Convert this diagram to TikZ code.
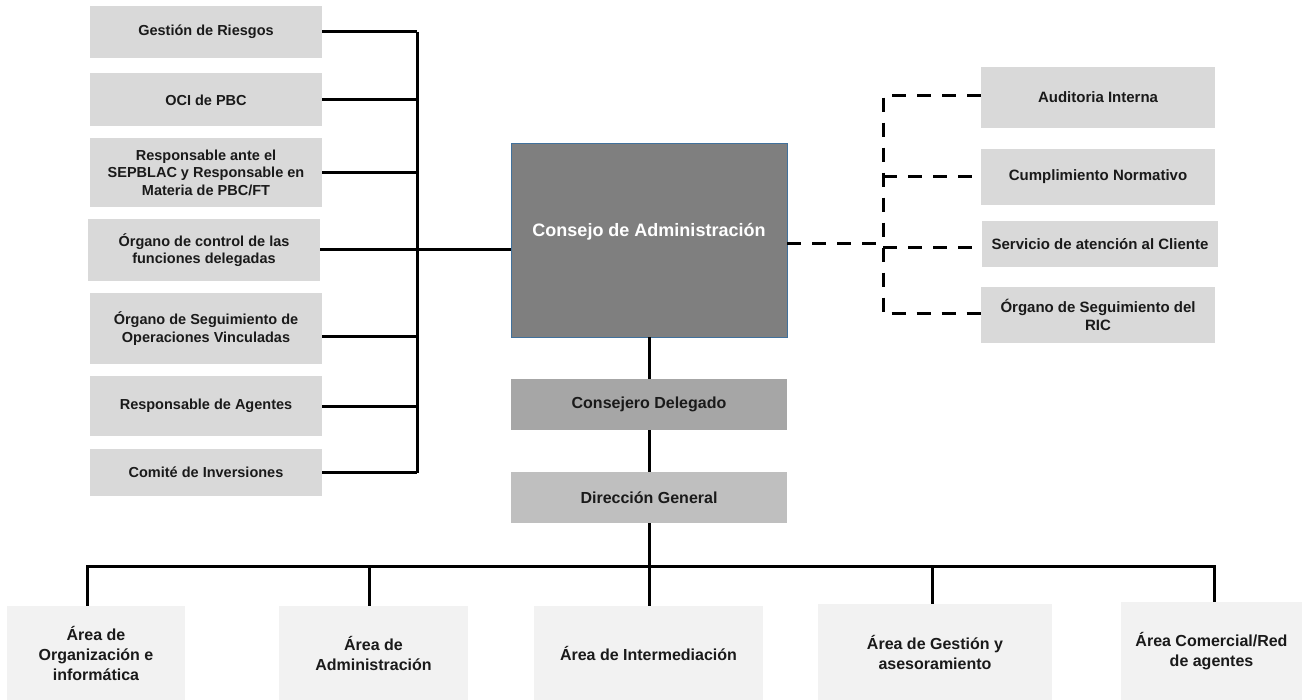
\documentclass[tikz,border=0pt]{standalone}
\usepackage{fontspec}
\setmainfont{Liberation Sans}
\usetikzlibrary{positioning}
\definecolor{boxgray}{HTML}{D9D9D9}
\definecolor{areagray}{HTML}{F2F2F2}
\definecolor{consejogray}{HTML}{7F7F7F}
\definecolor{delegadogray}{HTML}{A6A6A6}
\definecolor{direcciongray}{HTML}{BFBFBF}
\definecolor{consejoborde}{HTML}{41719C}
\definecolor{texto}{HTML}{1A1A1A}
\tikzset{
  caja/.style={inner sep=0pt, align=center, text=texto},
  organo/.style={caja, fill=boxgray, minimum width=232pt, font=\bfseries\fontsize{14.5}{17.5}\selectfont},
  control/.style={caja, fill=boxgray, minimum width=234pt, font=\bfseries\fontsize{15}{18}\selectfont},
  direccion/.style={caja, minimum width=276pt, minimum height=51pt, font=\bfseries\fontsize{16}{19}\selectfont},
  area/.style={caja, fill=areagray, font=\bfseries\fontsize{16}{20}\selectfont},
  linea/.style={line width=3pt, line join=miter},
  discontinua/.style={linea, dash pattern=on 14pt off 11pt}
}
\begin{document}
\begin{tikzpicture}[x=1pt,y=-1pt]
\useasboundingbox (0,0) rectangle (1308,700);
% organos a la izquierda
\node[organo, minimum height=52pt] (riesgos) at (206,32) {Gestión de Riesgos};
\node[organo, minimum height=53pt] (oci) at (206,100) {OCI de PBC};
\node[organo, minimum height=69pt] (sepblac) at (206,172.5) {Responsable ante el\\SEPBLAC y Responsable en\\Materia de PBC/FT};
\node[organo, minimum height=62pt] (delegadas) at (204,250) {Órgano de control de las\\funciones delegadas};
\node[organo, minimum height=71pt] (vinculadas) at (206,328.5) {Órgano de Seguimiento de\\Operaciones Vinculadas};
\node[organo, minimum height=60pt] (agentes) at (206,406) {Responsable de Agentes};
\node[organo, minimum height=47pt] (inversiones) at (206,472.5) {Comité de Inversiones};
% consejo y direccion
\node[caja, fill=consejogray, draw=consejoborde, line width=0.6pt, minimum width=276pt, minimum height=194pt,
  label={[yshift=8pt, text=white, font=\bfseries\fontsize{18}{21}\selectfont]center:Consejo de Administración}] (consejo) at (649,240) {};
\node[direccion, fill=delegadogray] (delegado) at (649,404.5) {Consejero Delegado};
\node[direccion, fill=direcciongray] (general) at (649,497.5) {Dirección General};
% control a la derecha
\node[control, minimum height=61pt] (auditoria) at (1098,97.5) {Auditoria Interna};
\node[control, minimum height=56pt] (cumplimiento) at (1098,177) {Cumplimiento Normativo};
\node[control, minimum height=46pt, minimum width=236pt] (cliente) at (1100,244) {Servicio de atención al Cliente};
\node[control, minimum height=56pt] (ric) at (1098,315) {Órgano de Seguimiento del\\RIC};
% areas
\node[area, minimum width=178pt, minimum height=94pt] (organizacion) at (96,653) {Área de\\Organización e\\informática};
\node[area, minimum width=189pt, minimum height=94pt] (administracion) at (373.5,653) {Área de\\Administración};
\node[area, minimum width=229pt, minimum height=94pt] (intermediacion) at (648.5,653) {Área de Intermediación};
\node[area, minimum width=234pt, minimum height=96pt] (gestion) at (935,652) {Área de Gestión y\\asesoramiento};
\node[area, minimum width=181pt, minimum height=98pt] (comercial) at (1211.5,651) {Área Comercial/Red\\de agentes};

% conexiones izquierda
\coordinate (busizq) at (417,0);
\draw[linea] (riesgos.east -| busizq) -- (inversiones.east -| busizq);
\foreach \n in {riesgos,oci,sepblac,delegadas,agentes,inversiones}
  \draw[linea] (\n.east) -- (\n.east -| busizq);
\draw[linea] ([yshift=-8pt]vinculadas.east) -- ([yshift=-8pt]vinculadas.east -| busizq);
\draw[linea] (delegadas.east) -- (delegadas.east -| consejo.west);
% conexiones centro
\draw[linea] (consejo) -- (delegado);
\draw[linea] (delegado) -- (general);
\coordinate (a1) at (87,566);
\coordinate (a2) at (369,566);
\coordinate (a3) at (649,566);
\coordinate (a4) at (932,566);
\coordinate (a5) at (1214,566);
\draw[linea] (general.south) -- (a3);
\draw[linea] (a1 |- organizacion.north) -- (a1) -- (a5) -- (a5 |- comercial.north);
\draw[linea] (a2) -- (a2 |- administracion.north);
\draw[linea] (a3) -- (a3 |- intermediacion.north);
\draw[linea] (a4) -- (a4 |- gestion.north);
% conexiones derecha
\coordinate (busder) at (883,0);
\draw[discontinua] ([yshift=2pt]auditoria.west) -- ([yshift=2pt]auditoria.west -| busder) -- ([yshift=1pt]ric.west -| busder) -- ([yshift=1pt]ric.west);
\draw[discontinua] (cumplimiento.west -| busder) -- ([xshift=-6pt]cumplimiento.west);
\draw[discontinua] ([yshift=-4pt]consejo.east) -- ([yshift=-4pt]consejo.east -| busder);
\draw[discontinua] ([yshift=-4pt]cliente.west -| busder) -- ([yshift=-4pt]cliente.west);
\end{tikzpicture}
\end{document}
